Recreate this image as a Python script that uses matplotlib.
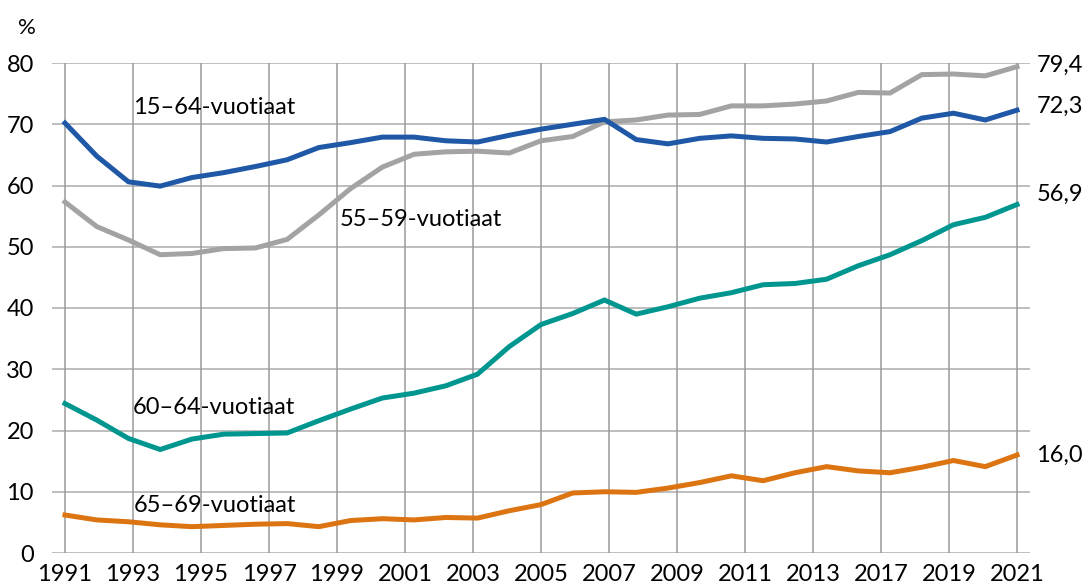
import numpy as np
import matplotlib
matplotlib.use("Agg")
import matplotlib.pyplot as plt

# -------------------------
# DATA (employment rate, %)
# -------------------------
years = list(range(1991, 2022))
tick_labels = ["1991", "1993", "1995", "1997", "1999", "2001", "2003", "2005",
               "2007", "2009", "2011", "2013", "2017", "2019", "2021"]

age_15_64 = [70.2, 64.8, 60.6, 59.9, 61.3, 62.1, 63.1, 64.2, 66.2, 67.0,
             67.9, 67.9, 67.3, 67.1, 68.2, 69.2, 70.0, 70.8, 67.5, 66.8,
             67.7, 68.1, 67.7, 67.6, 67.1, 68.0, 68.8, 71.0, 71.8, 70.7, 72.3]
age_55_59 = [57.3, 53.3, 51.1, 48.7, 48.9, 49.7, 49.8, 51.2, 55.2, 59.5,
             63.0, 65.1, 65.5, 65.6, 65.3, 67.3, 68.0, 70.4, 70.7, 71.5,
             71.6, 73.0, 73.0, 73.3, 73.8, 75.2, 75.1, 78.1, 78.2, 77.9, 79.4]
age_60_64 = [24.4, 21.7, 18.7, 16.9, 18.6, 19.4, 19.5, 19.6, 21.6, 23.5,
             25.3, 26.1, 27.3, 29.2, 33.7, 37.3, 39.1, 41.3, 39.0, 40.2,
             41.6, 42.5, 43.8, 44.0, 44.7, 46.9, 48.7, 51.0, 53.6, 54.8, 56.9]
age_65_69 = [6.2, 5.4, 5.1, 4.6, 4.3, 4.5, 4.7, 4.8, 4.3, 5.3,
             5.6, 5.4, 5.8, 5.7, 6.9, 7.9, 9.8, 10.0, 9.9, 10.6,
             11.5, 12.6, 11.8, 13.1, 14.1, 13.4, 13.1, 14.0, 15.1, 14.1, 16.0]

end_labels = ["79,4", "72,3", "56,9", "16,0"]

# -------------------------
# STYLE
# -------------------------
plt.rcParams['font.family'] = ['Lato', 'DejaVu Sans']
BLUE = "#1f58a6"
GRAY = "#a3a3a3"
TEAL = "#009690"
ORANGE = "#dc7412"
GRID = "#ababab"
FS = 17

fig = plt.figure(figsize=(10.85, 5.87), dpi=100)
ax = fig.add_axes([52 / 1085, 34 / 587, 978 / 1085, 490 / 587])

x = np.arange(len(years))
lw = 3.6
ax.plot(x, age_55_59, color=GRAY, lw=lw, solid_joinstyle="miter", zorder=3)
ax.plot(x, age_15_64, color=BLUE, lw=lw, solid_joinstyle="miter", zorder=4)
ax.plot(x, age_60_64, color=TEAL, lw=lw, solid_joinstyle="miter", zorder=3)
ax.plot(x, age_65_69, color=ORANGE, lw=lw, solid_joinstyle="miter", zorder=3)

pad = 13 / 31.73
ax.set_xlim(-pad, len(years) - 1 + pad)
ax.set_ylim(0, 80)

# axis ticks: labels spread evenly over the category span
tick_pos = np.linspace(0, len(years) - 1, len(tick_labels))
ax.set_xticks(tick_pos)
ax.set_xticklabels(tick_labels, fontsize=FS)
ax.set_yticks(range(0, 81, 10))
ax.tick_params(axis="y", labelsize=FS, length=0, pad=13)
ax.tick_params(axis="x", length=0, pad=8)

for v in range(0, 81, 10):
    ax.axhline(v, color=GRID, lw=1.1, zorder=1)
for p in tick_pos:
    ax.plot([p, p], [0, 80], color="#9a9a9a", lw=1.1, zorder=1)

for s in ax.spines.values():
    s.set_visible(False)

# series labels
ax.text(2.14, 72.7, "15–64-vuotiaat", fontsize=FS, va="center", ha="left")
ax.text(8.67, 54.4, "55–59-vuotiaat", fontsize=FS, va="center", ha="left")
ax.text(2.14, 23.7, "60–64-vuotiaat", fontsize=FS, va="center", ha="left")
ax.text(2.16, 7.8, "65–69-vuotiaat", fontsize=FS, va="center", ha="left")

# end values
last = [age_55_59[-1], age_15_64[-1], age_60_64[-1], age_65_69[-1]]
offsets = [1, 3, 7, 0]
for lab, v, dy in zip(end_labels, last, offsets):
    ax.annotate(lab, xy=(len(years) - 1, v), xytext=(14, dy),
                textcoords="offset points", fontsize=FS, va="center",
                ha="left", annotation_clip=False)

fig.text(27 / 1085, 1 - 28 / 587, "%", fontsize=FS - 1, ha="center", va="center")

fig.savefig("out.png", dpi=100)
